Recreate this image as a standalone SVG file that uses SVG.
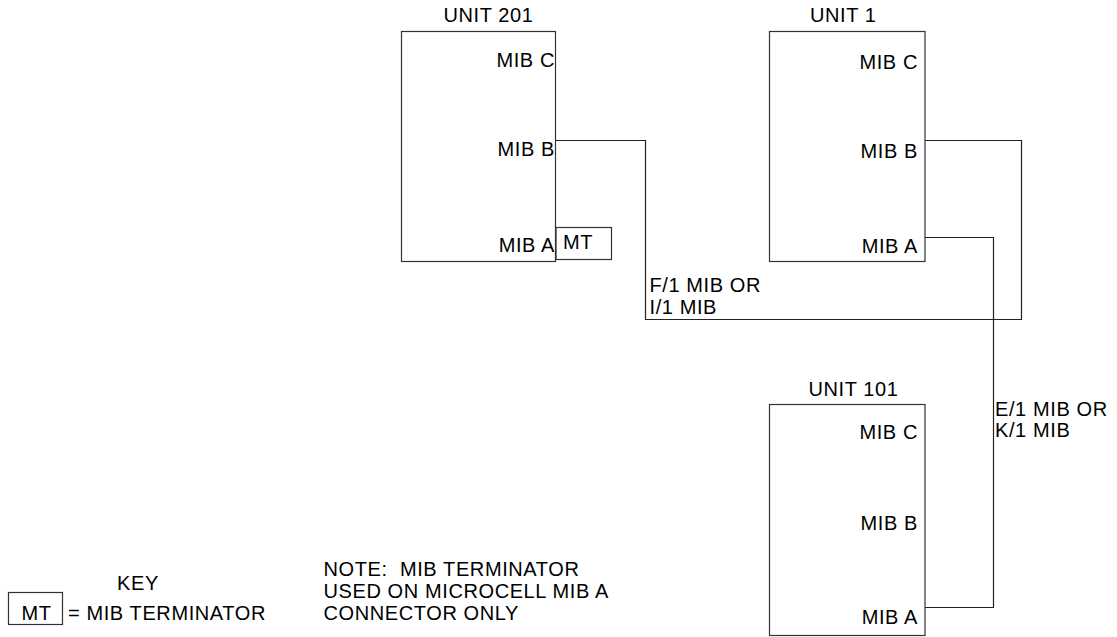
<svg xmlns="http://www.w3.org/2000/svg" width="1117" height="637" viewBox="0 0 1117 637">
<style>
text{font-family:"Liberation Sans",Arial,sans-serif;font-size:20px;fill:#000;letter-spacing:0.6px;white-space:pre}
.box{fill:none;stroke:#333;stroke-width:1.2}
.wire{fill:none;stroke:#222;stroke-width:1.2}
.r{text-anchor:end}
</style>
<rect width="1117" height="637" fill="#fff"/>
<g id="connectors">
<path class="wire" d="M556,140.5 H645.5 V319.5 H1021.5 V140.5 H925"/>
<path class="wire" d="M925,237.5 H993.5 V607.5 H925"/>
<text x="649.5" y="292">F/1 MIB OR</text>
<text x="649.5" y="313.5">I/1 MIB</text>
<text x="995" y="415.5">E/1 MIB OR</text>
<text x="995" y="436.5">K/1 MIB</text>
</g>
<g id="unit201">
<text x="443.5" y="22">UNIT 201</text>
<rect class="box" x="401.5" y="31.5" width="154" height="230"/>
<text class="r" x="555" y="67">MIB C</text>
<text class="r" x="555" y="156">MIB B</text>
<text class="r" x="555" y="252">MIB A</text>
</g>
<g id="mt201">
<rect class="box" x="556" y="227.5" width="55.5" height="32"/>
<text x="563" y="248.5">MT</text>
</g>
<g id="unit1">
<text x="810" y="22">UNIT 1</text>
<rect class="box" x="769.5" y="31.5" width="155.5" height="230"/>
<text class="r" x="918" y="69">MIB C</text>
<text class="r" x="918" y="158">MIB B</text>
<text class="r" x="918" y="253">MIB A</text>
</g>
<g id="unit101">
<text x="808.5" y="396">UNIT 101</text>
<rect class="box" x="769.5" y="404.5" width="155.5" height="231"/>
<text class="r" x="918" y="439">MIB C</text>
<text class="r" x="918" y="530">MIB B</text>
<text class="r" x="918" y="624">MIB A</text>
</g>
<g id="key">
<text x="117" y="589.5">KEY</text>
<rect class="box" x="8.5" y="592.5" width="54" height="32"/>
<text x="21.5" y="619.5">MT</text>
<text x="68" y="619.5">= MIB TERMINATOR</text>
</g>
<g id="note">
<text x="323.5" y="576" xml:space="preserve">NOTE:  MIB TERMINATOR</text>
<text x="323.5" y="598">USED ON MICROCELL MIB A</text>
<text x="323.5" y="620">CONNECTOR ONLY</text>
</g>
</svg>
